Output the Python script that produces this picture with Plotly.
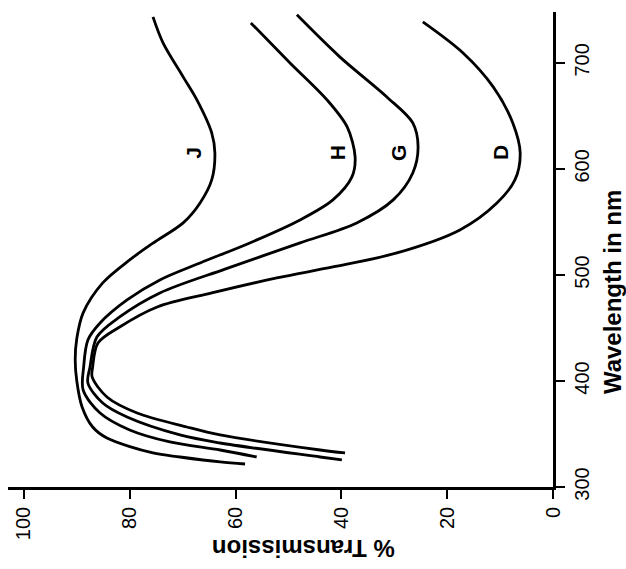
import plotly.graph_objects as go

# Wavelength (nm) and % transmission for each curve
J_wl = [321.7, 323.6, 328.3, 332.1, 346.2, 356.6, 375.5, 400.0, 420.0, 440.0, 464.2, 492.5, 514.2, 530.0, 549.1, 567.9, 589.6, 615.1, 634.0, 665.1, 686.8, 718.9, 743.4]
J_T = [58.2, 62.9, 70.5, 75.6, 84.3, 87.0, 89.0, 90.0, 90.3, 90.0, 88.8, 85.1, 80.0, 75.6, 69.9, 66.7, 64.5, 63.9, 64.5, 67.3, 69.9, 73.7, 75.6]

H_wl = [328.3, 334.9, 342.5, 353.8, 369.8, 391.5, 413.2, 438.7, 454.7, 476.4, 495.3, 511.3, 530.2, 551.9, 570.8, 592.5, 611.3, 639.6, 665.1, 700.0, 737.7]
H_T = [56.0, 62.9, 72.4, 80.0, 85.6, 88.8, 88.7, 87.9, 85.6, 80.5, 74.3, 66.7, 57.3, 47.8, 41.6, 38.0, 37.4, 38.9, 42.7, 49.7, 57.1]

G_wl = [325.5, 328.3, 341.5, 349.1, 366.0, 379.2, 398.1, 413.2, 441.5, 460.4, 483.0, 505.5, 530.2, 549.1, 570.8, 596.2, 620.8, 643.4, 667.9, 705.7, 745.3]
G_T = [39.9, 44.0, 62.9, 70.5, 80.5, 85.1, 87.9, 87.5, 86.2, 81.9, 74.3, 62.0, 47.8, 37.1, 30.2, 26.5, 25.5, 26.5, 31.4, 40.3, 48.4]

D_wl = [332.1, 334.9, 349.1, 356.6, 369.8, 384.9, 403.8, 413.2, 435.8, 450.9, 469.8, 483.0, 497.2, 507.5, 520.8, 542.5, 567.9, 589.6, 615.1, 643.4, 677.4, 709.4, 738.7]
D_T = [39.3, 44.0, 62.9, 69.2, 78.6, 84.3, 87.1, 87.0, 86.0, 81.9, 74.8, 64.5, 52.2, 41.6, 29.5, 17.6, 10.6, 7.2, 6.2, 7.6, 11.3, 17.0, 24.6]

curve_names = ["J", "H", "G", "D"]
label_wl = [615, 615, 615, 615]
label_T = [68.1, 40.8, 29.3, 10.0]

x_ticks = [0, 20, 40, 60, 80, 100]
y_ticks = [300, 400, 500, 600, 700]

FONT = "Liberation Sans"

fig = go.Figure()
for wl, t in [(J_wl, J_T), (H_wl, H_T), (G_wl, G_T), (D_wl, D_T)]:
    fig.add_trace(go.Scatter(
        x=t, y=wl, mode="lines",
        line=dict(color="black", width=2.8, shape="spline", smoothing=0.9),
        showlegend=False, hoverinfo="skip",
    ))

for name, lw, lt in zip(curve_names, label_wl, label_T):
    fig.add_annotation(
        x=lt, y=lw, xref="x", yref="y", text=name, showarrow=False,
        textangle=-90, font=dict(family=FONT, size=21, color="black", weight="bold"),
        xanchor="center", yanchor="middle",
    )

fig.add_annotation(
    x=0.541, y=-0.128, xref="paper", yref="paper", text="% Transmission",
    showarrow=False, textangle=180,
    font=dict(family=FONT, size=24, color="black", weight="bold"),
    xanchor="center", yanchor="middle",
)
fig.add_annotation(
    x=1.108, y=0.41, xref="paper", yref="paper", text="Wavelength in nm",
    showarrow=False, textangle=-90,
    font=dict(family=FONT, size=24, color="black", weight="bold"),
    xanchor="center", yanchor="middle",
)

fig.update_layout(
    width=626, height=569,
    margin=dict(l=8, r=73, t=12, b=82),
    paper_bgcolor="white", plot_bgcolor="white",
    font=dict(family=FONT, color="black"),
    xaxis=dict(
        range=[103, 0], tickvals=x_ticks, ticks="outside", ticklen=9, tickwidth=2,
        tickcolor="black", showline=True, linewidth=2.5, linecolor="black",
        showgrid=False, zeroline=False, tickangle=-90,
        tickfont=dict(family=FONT, size=20, color="black"),
    ),
    yaxis=dict(
        range=[300, 748], tickvals=y_ticks, side="right", ticks="outside",
        ticklen=9, tickwidth=2, tickcolor="black", showline=True, linewidth=2.5,
        linecolor="black", showgrid=False, zeroline=False, tickangle=-90,
        tickfont=dict(family=FONT, size=20, color="black"),
    ),
)

fig.write_html("out.html")
